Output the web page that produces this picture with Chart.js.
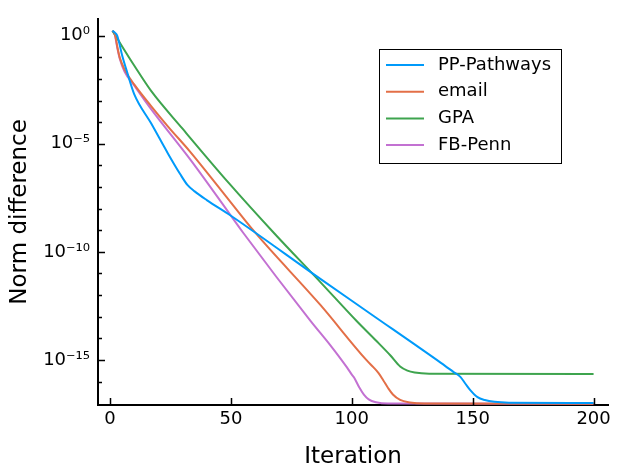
<!DOCTYPE html>
<html>
<head>
<meta charset="utf-8">
<script src="https://cdn.jsdelivr.net/npm/chart.js@4"></script>
<style>
  body { margin: 0; background: #fff; }
  #wrap { width: 618px; height: 467px; position: relative; }
</style>
</head>
<body>
<div id="wrap"><canvas id="myChart"></canvas></div>
<script>
// data
const seriesNames = ['PP-Pathways', 'email', 'GPA', 'FB-Penn'];
const seriesColors = ['#009AFA', '#E36F47', '#3EA44E', '#C371D2'];

const ppIter = [1, 2, 3, 5, 7, 10, 17, 24, 29, 32, 35, 40, 50, 87, 108, 137, 142, 145, 147, 149, 152, 155, 159, 165, 200];
const ppNorm = [1.7, 1.4, 1.0, 1.26e-1, 2.2e-2, 2e-3, 8.9e-5, 3.5e-6, 4e-7, 1.26e-7, 6.3e-8, 2.5e-8, 4.7e-9, 5.6e-12, 1.3e-13, 7.1e-16, 2.8e-16, 1.6e-16, 7.9e-17, 4e-17, 1.9e-17, 1.4e-17, 1.15e-17, 1.05e-17, 1.02e-17];

const emIter = [1, 2, 3, 4, 6, 10, 17, 24, 33, 46, 60, 87, 106, 109, 111, 113, 115, 117, 120, 124, 130, 200];
const emNorm = [1.7, 1.2, 3.2e-1, 1e-1, 2.8e-2, 5.6e-3, 5.6e-4, 6.3e-5, 4.5e-6, 7.1e-8, 7.9e-10, 3.5e-13, 1e-15, 4.5e-16, 2.5e-16, 1.15e-16, 5e-17, 2.5e-17, 1.4e-17, 1.07e-17, 9.5e-18, 9.3e-18];

const gpaIter = [1, 3, 10, 17, 30, 49, 68, 87, 102, 110, 116, 120, 123, 126, 132, 200];
const gpaNorm = [1.7, 7.4e-1, 4.2e-2, 2.8e-3, 5e-5, 1.6e-7, 7.1e-10, 4e-12, 6.3e-14, 7.9e-15, 1.6e-15, 5e-16, 3.2e-16, 2.6e-16, 2.3e-16, 2.24e-16];

const fbIter = [1, 2, 3, 4, 6, 10, 17, 33, 46, 55, 83, 91, 98, 100, 101, 103, 105, 107, 110, 115, 200];
const fbNorm = [1.7, 1.1, 2.8e-1, 8.9e-2, 2.2e-2, 5e-3, 4e-4, 2e-6, 2e-8, 7.9e-10, 6.3e-14, 5e-15, 4.5e-16, 2.1e-16, 1.5e-16, 5.6e-17, 2.5e-17, 1.5e-17, 1.1e-17, 9.5e-18, 9.3e-18];

const xTicks = [0, 50, 100, 150, 200];
const yDecades = [1, 1e-1, 1e-2, 1e-3, 1e-4, 1e-5, 1e-6, 1e-7, 1e-8, 1e-9, 1e-10, 1e-11, 1e-12, 1e-13, 1e-14, 1e-15, 1e-16];
const yLabelValues = [1, 1e-5, 1e-10, 1e-15];
const yLabelTexts = ['10⁰', '10⁻⁵', '10⁻¹⁰', '10⁻¹⁵'];

const FONT = "'DejaVu Sans', sans-serif";

function pts(xs, ys) {
    return xs.map((x, i) => ({x: x, y: ys[i]}));
}

function labelIndex(v) {
    return yLabelValues.findIndex(t => Math.abs(Math.log10(t) - Math.log10(v)) < 1e-6);
}

// ticks drawn inward like the original
const innerTicks = {
    id: 'innerTicks',
    afterDraw(chart) {
        const ctx = chart.ctx;
        const xs = chart.scales.x, ys = chart.scales.y;
        const area = chart.chartArea;
        ctx.save();
        ctx.strokeStyle = '#000';
        ctx.lineWidth = 1.5;
        ctx.beginPath();
        xTicks.forEach(v => {
            const px = Math.round(xs.getPixelForValue(v)) + 0.5;
            ctx.moveTo(px, area.bottom);
            ctx.lineTo(px, area.bottom - 7);
        });
        yDecades.forEach(v => {
            const py = Math.round(ys.getPixelForValue(v)) + 0.5;
            const len = labelIndex(v) >= 0 ? 7 : 4;
            ctx.moveTo(area.left, py);
            ctx.lineTo(area.left + len, py);
        });
        ctx.stroke();
        ctx.restore();
    }
};

// boxed legend inside the plot area
const boxLegend = {
    id: 'boxLegend',
    afterDraw(chart) {
        const ctx = chart.ctx;
        const x0 = 379, y0 = 49, w = 182, h = 114;
        ctx.save();
        ctx.fillStyle = '#fff';
        ctx.fillRect(x0, y0, w, h);
        ctx.strokeStyle = '#000';
        ctx.lineWidth = 1;
        ctx.strokeRect(x0 + 0.5, y0 + 0.5, w, h);
        ctx.font = '18px ' + FONT;
        ctx.textBaseline = 'middle';
        chart.data.datasets.forEach((ds, i) => {
            const cy = y0 + 16 + i * 26.7;
            ctx.strokeStyle = ds.borderColor;
            ctx.lineWidth = 2;
            ctx.beginPath();
            ctx.moveTo(x0 + 7, cy);
            ctx.lineTo(x0 + 45, cy);
            ctx.stroke();
            ctx.fillStyle = '#000';
            ctx.fillText(ds.label, x0 + 59, cy);
        });
        ctx.restore();
    }
};

const seriesData = [pts(ppIter, ppNorm), pts(emIter, emNorm), pts(gpaIter, gpaNorm), pts(fbIter, fbNorm)];

new Chart(document.querySelector('#myChart'), {
    type: 'line',
    data: {
        datasets: seriesNames.map((name, i) => ({
            label: name,
            data: seriesData[i],
            borderColor: seriesColors[i],
            backgroundColor: seriesColors[i],
            borderWidth: 2,
            pointRadius: 0,
            fill: false,
            cubicInterpolationMode: 'monotone'
        }))
    },
    options: {
        responsive: true,
        maintainAspectRatio: false,
        animation: false,
        layout: {
            padding: {top: 12, right: 10, left: 0, bottom: 0}
        },
        scales: {
            x: {
                type: 'linear',
                min: -4.97,
                max: 205.97,
                grid: {display: false, drawTicks: false},
                border: {display: true, color: '#000', width: 2},
                afterBuildTicks: scale => {
                    scale.ticks = xTicks.map(v => ({value: v}));
                },
                afterFit: scale => { scale.height = 62; },
                ticks: {
                    autoSkip: false,
                    maxRotation: 0,
                    padding: 4,
                    color: '#000',
                    font: {family: FONT, size: 18}
                },
                title: {
                    display: true,
                    text: 'Iteration',
                    color: '#000',
                    font: {family: FONT, size: 23},
                    padding: {top: 0, bottom: -4}
                }
            },
            y: {
                type: 'logarithmic',
                min: 8.2e-18,
                max: 6.1,
                grid: {display: false, drawTicks: false},
                border: {display: true, color: '#000', width: 2},
                afterBuildTicks: scale => {
                    scale.ticks = yDecades.map(v => ({value: v}));
                },
                afterFit: scale => { scale.width = 98; },
                ticks: {
                    autoSkip: false,
                    padding: 8,
                    color: '#000',
                    font: {family: FONT, size: 18},
                    callback: function(value) {
                        const k = labelIndex(value);
                        return k >= 0 ? yLabelTexts[k] : '';
                    }
                },
                title: {
                    display: true,
                    text: 'Norm difference',
                    color: '#000',
                    font: {family: FONT, size: 23},
                    padding: {top: 6, bottom: 0}
                }
            }
        },
        plugins: {
            legend: {display: false},
            tooltip: {enabled: false}
        }
    },
    plugins: [innerTicks, boxLegend]
});
</script>
</body>
</html>
